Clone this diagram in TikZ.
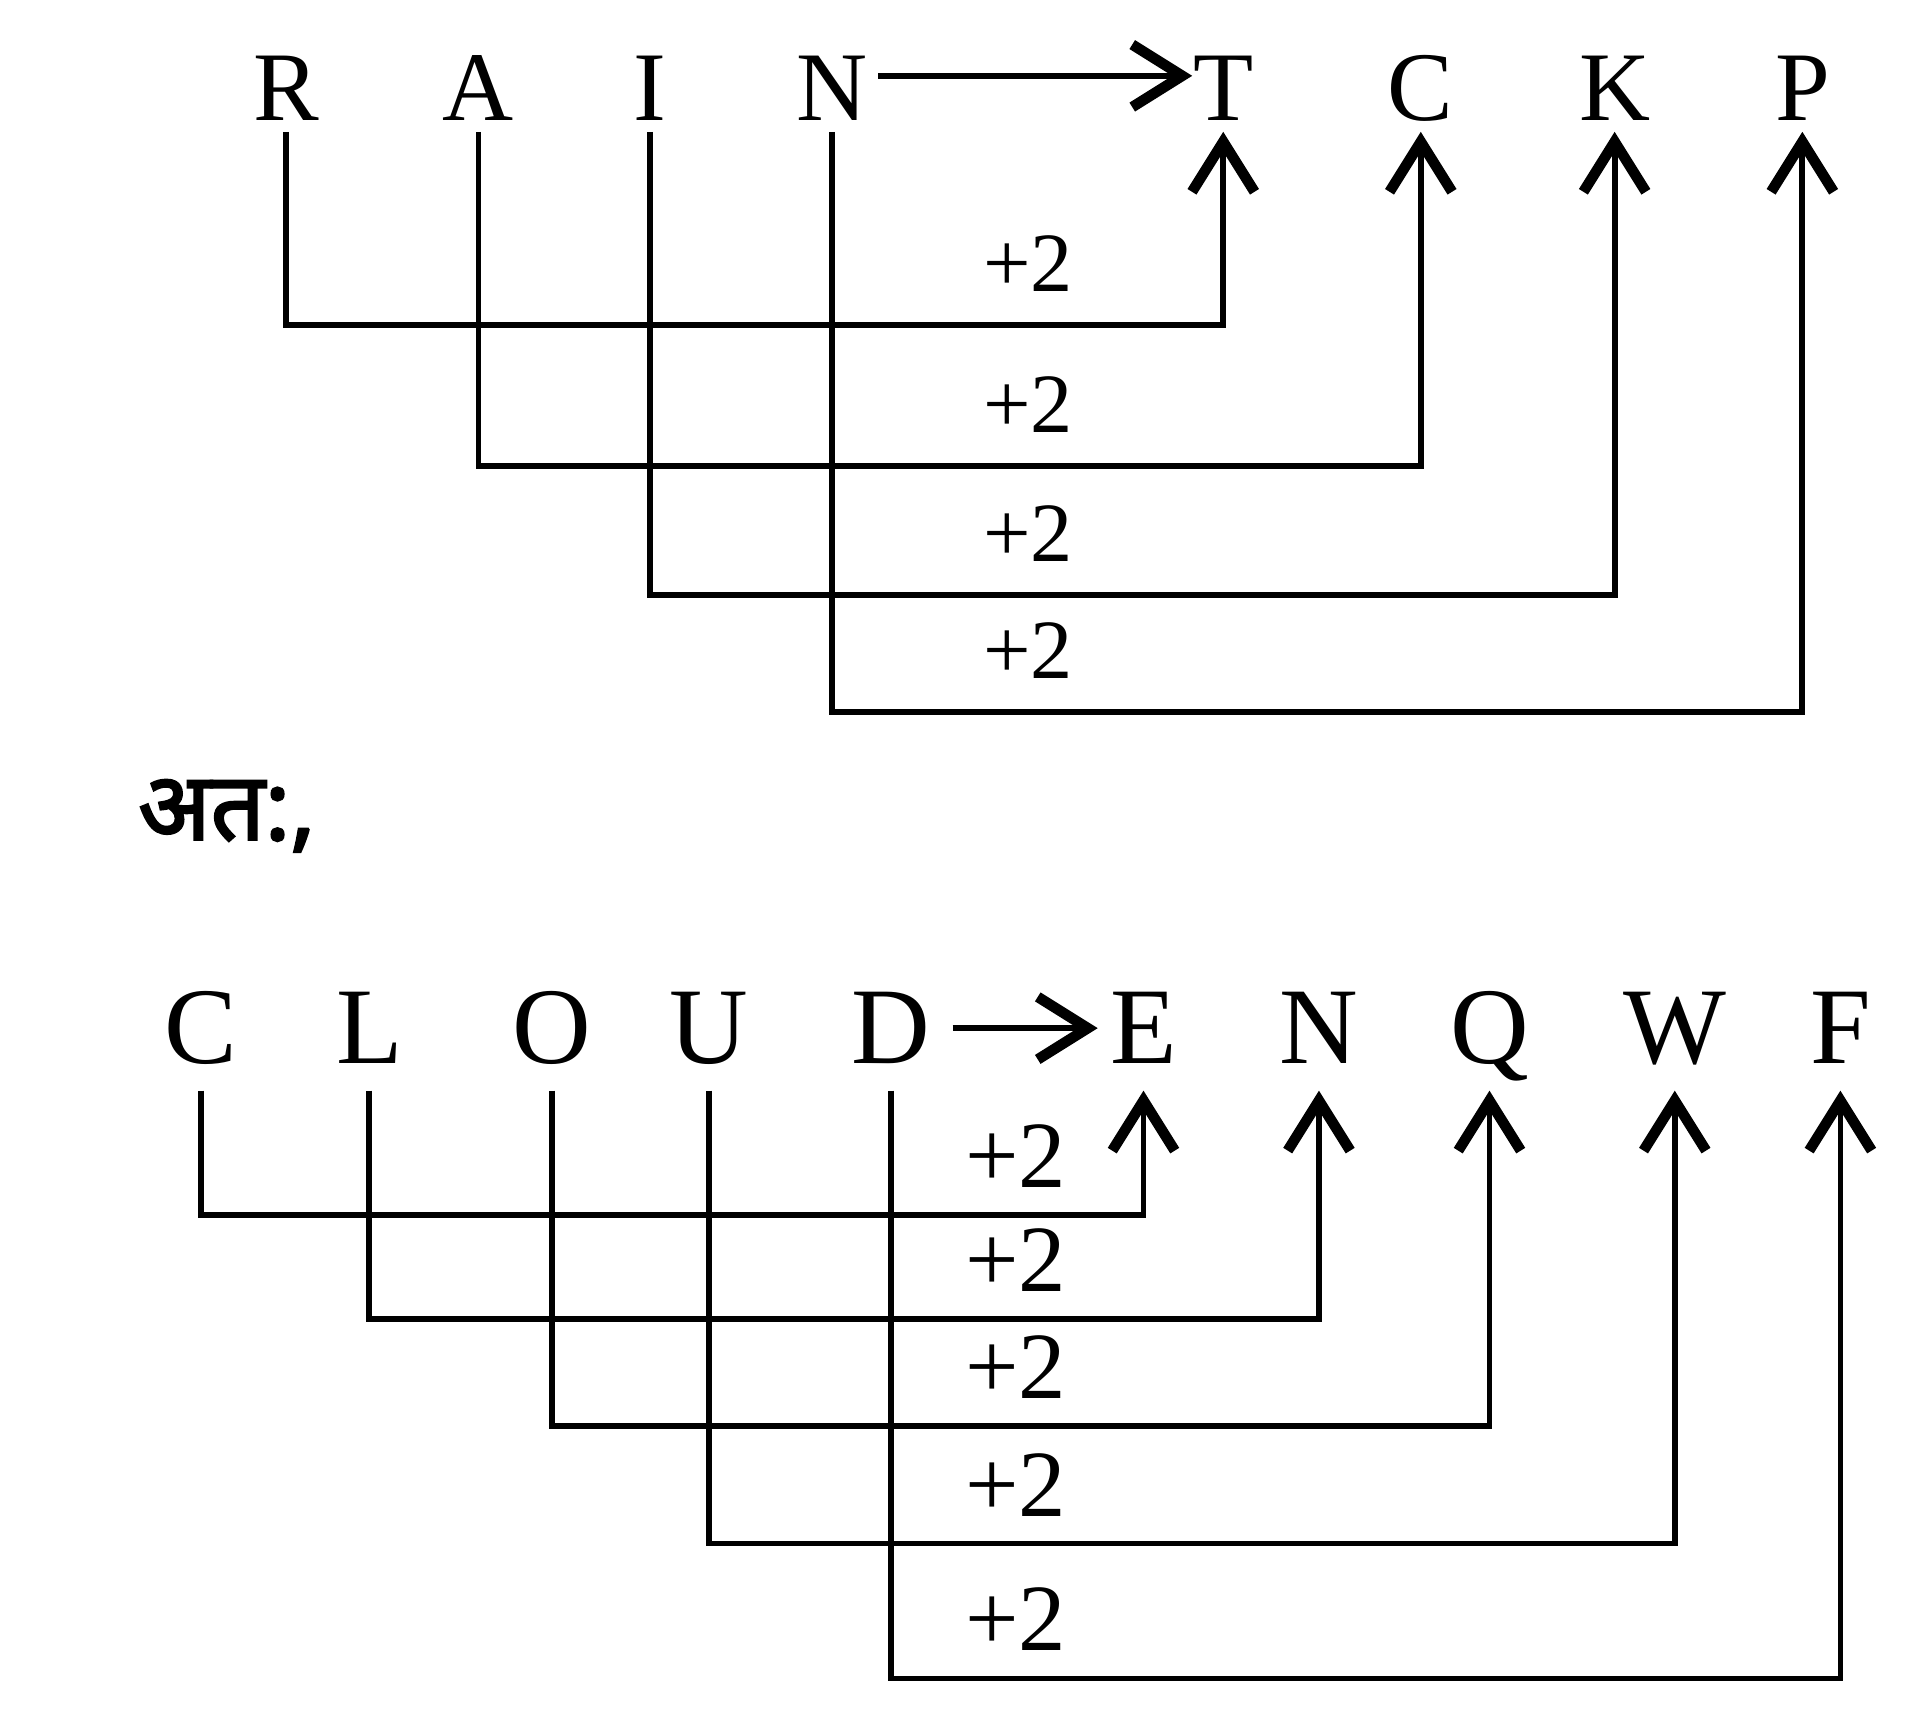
\documentclass[tikz,border=0pt]{standalone}
\usepackage{fontspec}
\setmainfont{Liberation Serif}
\newfontfamily\hindifont[Script=Devanagari,FakeBold=2.5]{Noto Sans}
\usetikzlibrary{arrows.meta}

\tikzset{
  arr/.style={line width=3.3pt, -{Straight Barb[length=1cm,width=1.25cm,line width=6pt]}},
  topletter/.style={inner sep=0pt, outer sep=0.22cm, text height=1.3cm, text depth=0pt, font=\fontsize{56}{60}\selectfont},
  botletter/.style={inner sep=0pt, outer sep=0.55cm, text height=1.4cm, text depth=0pt, font=\fontsize{62}{66}\selectfont},
  toplbl/.style={inner sep=0pt, font=\fontsize{48}{52}\selectfont},
  botlbl/.style={inner sep=0pt, font=\fontsize{54}{58}\selectfont}
}

\begin{document}
\begin{tikzpicture}[x=0.02454cm,y=-0.02454cm]
\useasboundingbox (0,0) rectangle (1560,1394);
% RAIN -> TCKP
\node [topletter] (rR) at (233,72) {R};
\node [topletter] (rA) at (390,72) {A};
\node [topletter] (rI) at (530,72) {I};
\node [topletter] (rN) at (678,72) {N};
\node [topletter] (tT) at (997,72) {T};
\node [topletter] (tC) at (1158,72) {C};
\node [topletter] (tK) at (1316,72) {K};
\node [topletter] (tP) at (1469,72) {P};
\draw [arr] ([yshift=0.25cm]rN.east) -- ([yshift=0.25cm,xshift=0.2cm]tT.west);
\foreach \s/\t/\y [count=\i] in {rR/tT/265, rA/tC/380, rI/tK/485, rN/tP/580} {
  \draw [arr] (\s.south) -- (\s.south |- 0,\y) -| (\t.south);
  \node [toplbl] (pa\i) at (838,\y-50) {+2};
}
% hence
\node [inner sep=0pt, font=\hindifont\fontsize{54}{58}\selectfont] (hence) at (185,665) {अत:,};
% CLOUD -> ENQWF
\node [botletter] (cC) at (164,838) {C};
\node [botletter] (cL) at (301,838) {L};
\node [botletter] (cO) at (450,838) {O};
\node [botletter] (cU) at (578,838) {U};
\node [botletter] (cD) at (726,838) {D};
\node [botletter] (eE) at (932,838) {E};
\node [botletter] (eN) at (1075,838) {N};
\node [botletter] (eQ) at (1214,838) {Q};
\node [botletter] (eW) at (1365,838) {W};
\node [botletter] (eF) at (1500,838) {F};
\draw [arr] ([xshift=-0.1cm]cD.east) -- ([xshift=0.3cm]eE.west);
\foreach \s/\t/\y [count=\i] in {cC/eE/990, cL/eN/1075, cO/eQ/1162, cU/eW/1258, cD/eF/1368} {
  \draw [arr] (\s.south) -- (\s.south |- 0,\y) -| (\t.south);
  \node [botlbl] (pb\i) at (828,\y-48) {+2};
}
\end{tikzpicture}
\end{document}
